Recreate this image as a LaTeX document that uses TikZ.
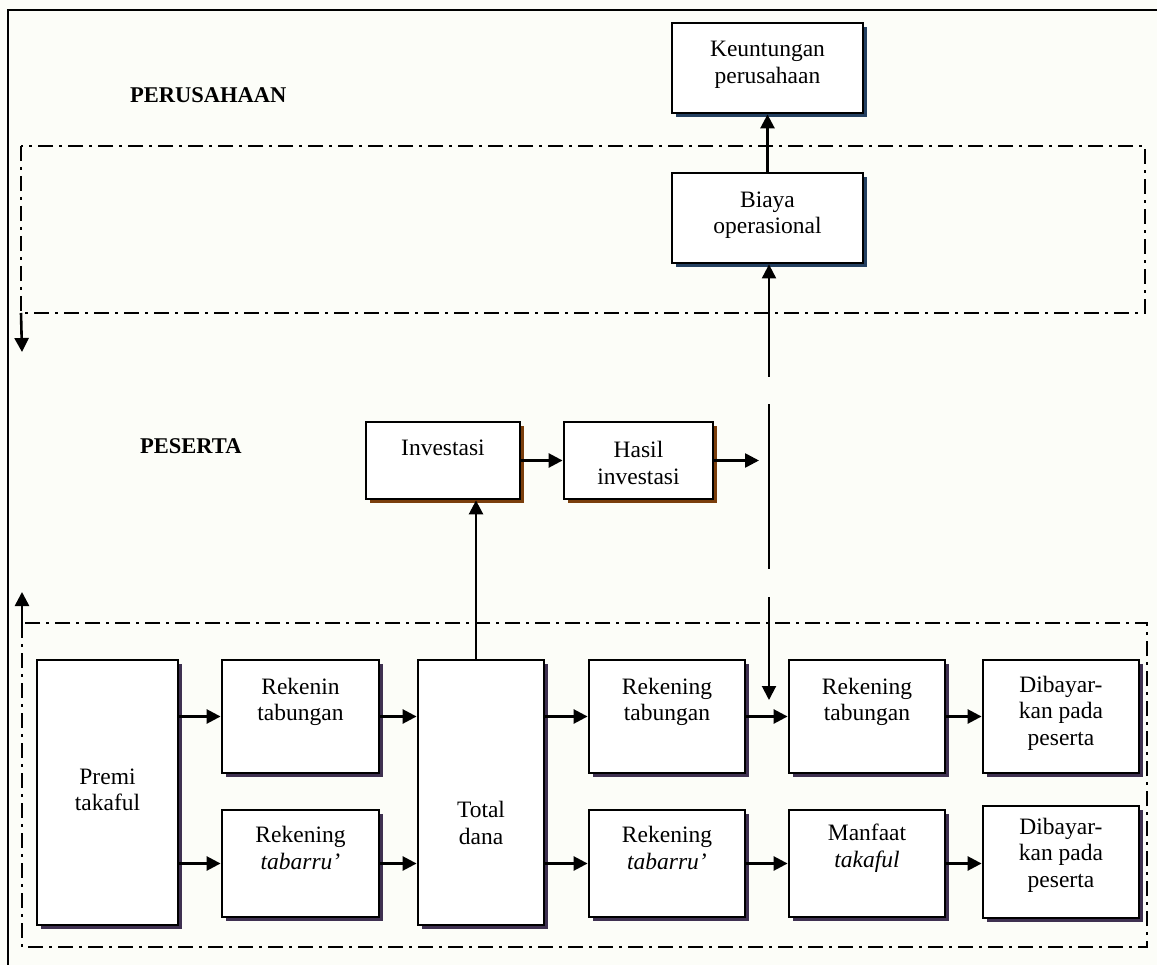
\documentclass[tikz,border=0pt]{standalone}
\usepackage{fontspec}
\setmainfont{Liberation Serif}
\usetikzlibrary{arrows.meta,shadows}
\definecolor{bgc}{RGB}{252,253,248}
\definecolor{shblue}{RGB}{36,64,97}
\definecolor{shbrown}{RGB}{122,62,12}
\definecolor{shpurple}{RGB}{63,49,81}
\begin{document}
\begin{tikzpicture}[x=1pt,y=-1pt,
  box/.style={draw=black,line width=2.8pt,fill=white,inner sep=0pt,rectangle},
  bshadow/.style={drop shadow={shadow xshift=4pt,shadow yshift=-4pt,fill=#1,opacity=1}},
  txt/.style={align=center,inner sep=0pt,font=\fontsize{23.5}{26.5}\selectfont},
  head/.style={inner sep=0pt,anchor=west,font=\fontsize{22.5}{26}\selectfont\bfseries},
  arr/.style={line width=2.6pt,-{Triangle[length=14pt,width=14pt]}},
  vline/.style={line width=2pt,-{Triangle[length=14pt,width=14pt]}},
  dd/.style={line width=2.6pt,dash pattern=on 15pt off 6pt on 3pt off 6pt},
  ddarr/.style={line width=2.6pt,-{Triangle[length=14pt,width=14pt]}}
]
\fill[bgc] (0,0) rectangle (1157,965);
\useasboundingbox (0,0) rectangle (1157,965);
% outer frame (top and left)
\draw[line width=2.4pt] (8,965) -- (8,10) -- (1157,10);

% dash-dot regions
\coordinate (tl1) at (21,146);
\coordinate (br1) at (1145,313);
\draw[dd] (tl1) rectangle (br1);
\coordinate (a1) at (22,352);
\draw[ddarr] (tl1 |- br1) -- (a1);

\coordinate (tl2) at (22,623);
\coordinate (br2) at (1147,947);
\draw[dd] (tl2) rectangle (br2);
\coordinate (a2) at (22,592);
\draw[ddarr] (tl2) -- (a2);

% headings
\node[head] (hper) at (130,95) {PERUSAHAAN};
\node[head] (hpes) at (140,446) {PESERTA};

% boxes
\node[box,bshadow=shblue,minimum width=191pt,minimum height=90pt] (keu) at (767.5,68) {};
\node[box,bshadow=shblue,minimum width=191pt,minimum height=90pt] (bia) at (767.5,218) {};
\node[box,bshadow=shbrown,minimum width=154pt,minimum height=77pt] (inv) at (443,460.5) {};
\node[box,bshadow=shbrown,minimum width=149pt,minimum height=77pt] (has) at (638.5,460.5) {};

\node[box,bshadow=shpurple,minimum width=141pt,minimum height=265pt] (premi) at (107.5,792.5) {};
\node[box,bshadow=shpurple,minimum width=157pt,minimum height=113pt] (rt1) at (300.5,716.5) {};
\node[box,bshadow=shpurple,minimum width=157pt,minimum height=107pt] (rb1) at (300.5,863.5) {};
\node[box,bshadow=shpurple,minimum width=126pt,minimum height=265pt] (total) at (481,792.5) {};
\node[box,bshadow=shpurple,minimum width=156pt,minimum height=113pt] (rt2) at (667,716.5) {};
\node[box,bshadow=shpurple,minimum width=156pt,minimum height=107pt] (rb2) at (667,863.5) {};
\node[box,bshadow=shpurple,minimum width=156pt,minimum height=113pt] (rt3) at (867,716.5) {};
\node[box,bshadow=shpurple,minimum width=156pt,minimum height=107pt] (man) at (867,863.5) {};
\node[box,bshadow=shpurple,minimum width=156pt,minimum height=113pt] (dib1) at (1061,716.5) {};
\node[box,bshadow=shpurple,minimum width=156pt,minimum height=112pt] (dib2) at (1061,862) {};

% texts
\node[txt] (keut) at (767.5,65) {Keuntungan\\perusahaan};
\node[txt] (biat) at (767.5,215) {Biaya\\operasional};
\node[txt] (invt) at (443,448) {Investasi};
\node[txt] (hast) at (638.5,463) {Hasil\\investasi};
\node[txt] (premit) at (107.5,790) {Premi\\takaful};
\node[txt] (rt1t) at (300.5,702) {Rekenin\\tabungan};
\node[txt] (rb1t) at (300.5,848) {Rekening\\\textit{tabarru’}};
\node[txt] (totalt) at (481,823) {Total\\dana};
\node[txt] (rt2t) at (667,702) {Rekening\\tabungan};
\node[txt] (rb2t) at (667,848) {Rekening\\\textit{tabarru’}};
\node[txt] (rt3t) at (867,702) {Rekening\\tabungan};
\node[txt] (mant) at (867,848) {Manfaat\\\textit{takaful}};
\node[txt] (dib1t) at (1061,713) {Dibayar-\\kan pada\\peserta};
\node[txt] (dib2t) at (1061,855) {Dibayar-\\kan pada\\peserta};

% connectors
\draw[arr] (bia.north) -- (keu.south);
\coordinate (cx) at (476,0);
\draw[arr] (total.north -| cx) -- (inv.south -| cx);
\draw[arr] (inv.east) -- (has.west);
\coordinate (hend) at (759,460.5);
\draw[arr] (has.east) -- (hend);
\coordinate (vj) at (769,463);
\coordinate (vbot) at (769,700);
\draw[vline,dash pattern=on 59pt off 27pt on 400pt] (vj) -- (vj |- bia.south);
\draw[vline,dash pattern=on 106pt off 28pt on 400pt] (vj) -- (vbot);

\draw[arr] (premi.east |- rt1.west) -- (rt1.west);
\draw[arr] (premi.east |- rb1.west) -- (rb1.west);
\draw[arr] (rt1.east) -- (total.west |- rt1.east);
\draw[arr] (rb1.east) -- (total.west |- rb1.east);
\draw[arr] (total.east |- rt2.west) -- (rt2.west);
\draw[arr] (total.east |- rb2.west) -- (rb2.west);
\draw[arr] (rt2.east) -- (rt3.west);
\draw[arr] (rb2.east) -- (man.west);
\draw[arr] (rt3.east) -- (dib1.west);
\draw[arr] (man.east) -- (man.east -| dib2.west);
\end{tikzpicture}
\end{document}
